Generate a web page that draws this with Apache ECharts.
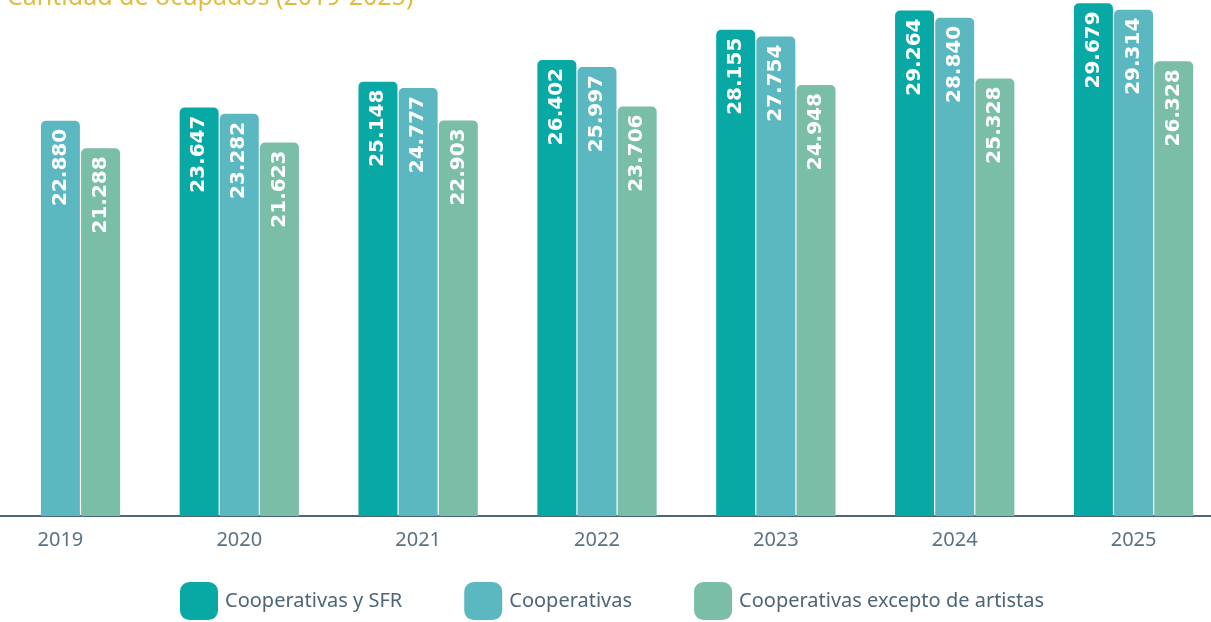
<!DOCTYPE html>
<html>
<head>
<meta charset="utf-8">
<script src="https://cdn.jsdelivr.net/npm/echarts@6/dist/echarts.min.js"></script>
<style>
  html, body { margin: 0; padding: 0; background: #fff; overflow: hidden; }
  #chart { width: 1252px; height: 622px; margin-left: -29px; }
</style>
</head>
<body>
<div id="chart"></div>
<script>
var years = ['2019', '2020', '2021', '2022', '2023', '2024', '2025']
var seriesNames = ['Cooperativas y SFR', 'Cooperativas', 'Cooperativas excepto de artistas']
var coopSfr = [null, 23647, 25148, 26402, 28155, 29264, 29679]
var coops = [22880, 23282, 24777, 25997, 27754, 28840, 29314]
var coopsExArt = [21288, 21623, 22903, 23706, 24948, 25328, 26328]
var colors = ['#08a8a5', '#5bb8c0', '#7abea7']

// el div es mas ancho que la ventana y corrido 29px a la izquierda
var shift = 29

var fmt = function (v) {
    // miles con punto
    return String(v).replace(/\B(?=(\d{3})+(?!\d))/g, '.')
}

var mkSeries = function (name, data, color) {
    return {
        name: name,
        type: 'bar',
        data: data,
        barWidth: '21.8%',
        barGap: '3%',
        itemStyle: { color: color, borderRadius: [5, 5, 0, 0] },
        label: {
            show: true,
            position: 'insideTop',
            rotate: 90,
            align: 'right',
            verticalAlign: 'middle',
            distance: 8,
            color: '#ffffff',
            fontFamily: 'DejaVu Sans',
            fontWeight: 'bold',
            fontSize: 20,
            formatter: function (p) { return fmt(p.value) }
        }
    }
}

var chart = echarts.init(document.getElementById('chart'), null, { renderer: 'canvas' })
chart.setOption({
    animation: false,
    title: {
        text: 'Cantidad de ocupados (2019-2025)',
        left: 2 + shift,
        top: -20,
        textStyle: { color: '#e2bc40', fontFamily: 'Noto Sans', fontWeight: 'normal', fontSize: 25 }
    },
    legend: {
        data: seriesNames,
        left: 180 + shift,
        top: 582,
        padding: 0,
        icon: 'roundRect',
        itemWidth: 38,
        itemHeight: 38,
        itemGap: 62,
        textStyle: { color: '#4c6677', fontFamily: 'Noto Sans', fontSize: 20, padding: [0, 0, 0, 2] }
    },
    grid: { left: 0, right: 0, top: 3, bottom: 106, containLabel: false },
    xAxis: {
        type: 'category',
        data: years,
        axisLine: { lineStyle: { color: '#4f6676', width: 2 } },
        axisTick: { show: false },
        axisLabel: { color: '#5a7282', fontFamily: 'Noto Sans', fontSize: 20, margin: 14 }
    },
    yAxis: {
        type: 'value',
        min: 0,
        max: 29700,
        show: false,
        splitLine: { show: false }
    },
    series: [
        mkSeries(seriesNames[0], coopSfr, colors[0]),
        mkSeries(seriesNames[1], coops, colors[1]),
        mkSeries(seriesNames[2], coopsExArt, colors[2])
    ]
})
</script>
</body>
</html>
